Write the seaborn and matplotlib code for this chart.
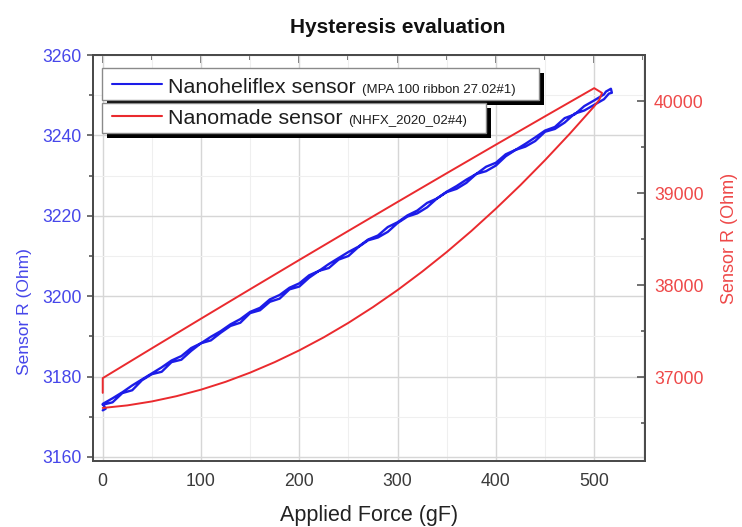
import matplotlib
matplotlib.use("Agg")
import matplotlib.pyplot as plt
import seaborn as sns
import pandas as pd
from matplotlib.patches import Rectangle
from matplotlib.lines import Line2D
from matplotlib.ticker import MultipleLocator

# ---------------- data ----------------
title = "Hysteresis evaluation"
x_label = "Applied Force (gF)"
y_label = "Sensor R (Ohm)"
legend_main = ["Nanoheliflex sensor", "Nanomade sensor"]
legend_sub = ["(MPA 100 ribbon 27.02#1)", "(NHFX_2020_02#4)"]

# Nanoheliflex (left axis): loading branch, top turn, unloading branch
blue_load_force = list(range(0, 520, 10))
blue_load_r = [3173.0, 3173.6, 3175.9, 3176.6, 3179.1, 3180.6, 3181.2, 3183.6, 3184.2, 3186.4,
               3188.3, 3189.0, 3190.9, 3192.6, 3193.4, 3195.8, 3196.5, 3198.6, 3199.4, 3201.7,
               3202.4, 3204.6, 3206.3, 3207.0, 3209.1, 3210.0, 3212.2, 3213.9, 3214.6, 3216.0,
               3218.2, 3219.8, 3220.6, 3222.1, 3224.3, 3225.9, 3226.7, 3228.2, 3230.4, 3231.1,
               3232.5, 3234.8, 3236.4, 3237.2, 3238.6, 3240.9, 3241.6, 3243.2, 3245.4, 3246.2,
               3247.6, 3249.0]
blue_turn_force = [515, 518, 517, 512]
blue_turn_r = [3250.4, 3250.6, 3251.6, 3250.9]
blue_unload_force = list(range(510, -10, -10))
blue_unload_r = [3250.2, 3248.7, 3247.3, 3245.2, 3244.3, 3242.1, 3241.2, 3239.5, 3237.9, 3236.4,
                 3235.3, 3233.2, 3232.2, 3230.4, 3229.0, 3227.4, 3226.0, 3224.3, 3223.2, 3221.3,
                 3220.1, 3218.4, 3217.2, 3215.1, 3214.1, 3212.3, 3211.0, 3209.5, 3208.0, 3206.3,
                 3205.2, 3203.2, 3202.1, 3200.3, 3199.2, 3197.1, 3196.1, 3194.3, 3193.0, 3191.3,
                 3189.9, 3188.3, 3187.1, 3185.1, 3184.0, 3182.3, 3180.8, 3179.3, 3177.8, 3176.1,
                 3174.6, 3173.2]
blue_tail_force = [3, 0]
blue_tail_r = [3172.0, 3171.6]

# Nanomade (right axis): loading (lower) branch, unloading (upper) branch
red_load_force = [0, 25, 50, 75, 100, 125, 150, 175, 200, 225, 250, 275, 300, 325, 350,
                  375, 400, 425, 450, 475, 500, 505, 508]
red_load_r = [36666, 36694, 36737, 36794, 36865, 36950, 37050, 37164, 37292, 37434, 37591,
              37762, 37947, 38147, 38360, 38588, 38831, 39087, 39358, 39643, 39942, 40010, 40088]
red_unload_force = [500, 475, 450, 425, 400, 375, 350, 325, 300, 275, 250, 225, 200, 175,
                    150, 125, 100, 75, 50, 25, 0, 0]
red_unload_r = [40140, 39987, 39834, 39680, 39526, 39371, 39216, 39060, 38904, 38747, 38590,
                38432, 38274, 38115, 37956, 37796, 37636, 37475, 37314, 37152, 36990, 36830]

blue_df = pd.DataFrame({
    "force": blue_load_force + blue_turn_force + blue_unload_force + blue_tail_force,
    "r": blue_load_r + blue_turn_r + blue_unload_r + blue_tail_r,
})
red_df = pd.DataFrame({
    "force": red_load_force + red_unload_force,
    "r": red_load_r + red_unload_r,
})

# ---------------- style ----------------
sns.set_theme(style="white")
plt.rcParams["font.family"] = ["Liberation Sans", "DejaVu Sans"]

BLUE = "#1c1ce8"
RED = "#ea2a2e"
BLUE_TXT = "#4646ea"
RED_TXT = "#ee4848"
SPINE = "#4a4a4a"

W, H = 742, 527
def fx(px):
    return px / W
def fy(py):
    return 1 - py / H

fig = plt.figure(figsize=(W / 100, H / 100), dpi=100)
ax = fig.add_axes([fx(92.7), fy(461), (645 - 92.7) / W, (461 - 55) / H])
ax2 = ax.twinx()

sns.lineplot(data=blue_df, x="force", y="r", sort=False, estimator=None,
             color=BLUE, lw=1.7, ax=ax, legend=False)
sns.lineplot(data=red_df, x="force", y="r", sort=False, estimator=None,
             color=RED, lw=1.4, ax=ax2, legend=False)

ax.set_xlim(-10.2, 551.7)
ax.set_ylim(3159, 3260)
ax2.set_ylim(36090, 40500)

ax.xaxis.set_major_locator(MultipleLocator(100))
ax.xaxis.set_minor_locator(MultipleLocator(50))
ax.yaxis.set_major_locator(MultipleLocator(20))
ax.yaxis.set_minor_locator(MultipleLocator(10))
ax2.yaxis.set_major_locator(MultipleLocator(1000))
ax2.yaxis.set_minor_locator(MultipleLocator(500))

ax.grid(True, which="major", color="#d6d6d6", lw=1.0)
ax.grid(True, which="minor", color="#efefef", lw=0.8)
ax.set_axisbelow(True)
ax2.grid(False)

for a in (ax, ax2):
    for s in a.spines.values():
        s.set_color(SPINE)
        s.set_linewidth(1.3)

ax.tick_params(axis="x", which="major", direction="out", length=4, width=1.1,
               color=SPINE, labelsize=12.7, labelcolor="#3a3a3a", pad=5)
ax.tick_params(axis="x", which="minor", direction="out", length=3, width=1.1, color=SPINE)
ax.tick_params(axis="y", which="major", direction="out", length=4.5, width=1.1,
               color=SPINE, labelsize=12.7, labelcolor=BLUE_TXT, pad=3.5)
ax.tick_params(axis="y", which="minor", direction="out", length=3, width=1.1, color=SPINE)
ax2.tick_params(axis="y", which="major", direction="in", length=6, width=1.1,
                color=SPINE, labelsize=12.7, labelcolor=RED_TXT, pad=6.5)
ax2.tick_params(axis="y", which="minor", direction="in", length=3, width=1.1, color=SPINE)

sec = ax.secondary_xaxis("top")
sec.xaxis.set_major_locator(MultipleLocator(100))
sec.xaxis.set_minor_locator(MultipleLocator(50))
sec.tick_params(axis="x", which="major", direction="in", length=5.5, width=1.1,
                color=SPINE, labeltop=False)
sec.tick_params(axis="x", which="minor", direction="in", length=3.5, width=1.1, color=SPINE)
for s in sec.spines.values():
    s.set_color(SPINE)
    s.set_linewidth(1.3)

ax.set_xlabel(x_label, fontsize=15.5, color="#222222")
ax.xaxis.set_label_coords(0.5, -0.108)
ax.set_ylabel(y_label, fontsize=12.5, color=BLUE_TXT)
ax.yaxis.set_label_coords(-0.110, 0.367)
ax2.set_ylabel(y_label, fontsize=13, color=RED_TXT)
ax2.yaxis.set_label_coords(1.137, 0.549)

fig.text(fx(398), fy(33), title, ha="center", va="baseline",
         fontsize=15, fontweight="bold", color="#111111")

# ---------------- legend boxes with drop shadows ----------------
boxes = [(102, 68, 539, 100), (102, 103, 486, 133)]
line_y = [84, 116]
base_y = [93, 124]
colors = [BLUE, RED]
z = 5
for i, (x0, y0, x1, y1) in enumerate(boxes):
    fig.add_artist(Rectangle((fx(x0 + 5), fy(y1 + 5)), (x1 - x0) / W, (y1 - y0) / H,
                             transform=fig.transFigure, facecolor="black",
                             edgecolor="none", zorder=z))
    fig.add_artist(Rectangle((fx(x0), fy(y1)), (x1 - x0) / W, (y1 - y0) / H,
                             transform=fig.transFigure, facecolor="white",
                             edgecolor="#8a8a8a", lw=1.0, zorder=z + 1))
    fig.add_artist(Line2D([fx(112), fx(162)], [fy(line_y[i])] * 2, transform=fig.transFigure,
                          color=colors[i], lw=1.5, zorder=z + 2))
    z += 3

fig.canvas.draw()
renderer = fig.canvas.get_renderer()
for i in range(2):
    t = fig.text(fx(168), fy(base_y[i]), legend_main[i], ha="left", va="baseline",
                 fontsize=15.4, color="#1e1e1e", zorder=20)
    bb = t.get_window_extent(renderer=renderer)
    fig.text((bb.x1 + 6) / W, fy(base_y[i]), legend_sub[i], ha="left", va="baseline",
             fontsize=9.5, color="#1e1e1e", zorder=20)

fig.savefig("out.png", dpi=100)
